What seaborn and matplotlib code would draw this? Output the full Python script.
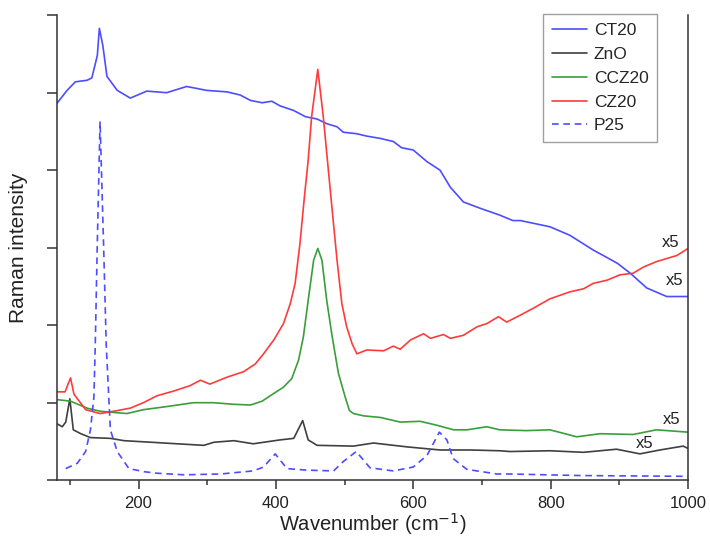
import matplotlib
matplotlib.use("Agg")
import matplotlib.pyplot as plt
import seaborn as sns
from matplotlib.ticker import MultipleLocator, NullFormatter

# values (wavenumber in cm-1, intensity in axis units 0..6)
ct20_x = [81, 96, 108, 125, 132, 140, 143, 148, 154, 169, 188, 212, 241, 270, 299, 329,
          348, 363, 380, 394, 406, 426, 443, 460, 474, 489, 498, 518, 532, 552, 571, 583,
          600, 620, 639, 654, 673, 697, 726, 745, 756, 799, 828, 862, 897, 916, 940, 969, 1000]
ct20_y = [4.86, 5.03, 5.14, 5.16, 5.19, 5.48, 5.83, 5.61, 5.21, 5.03, 4.93, 5.02, 5.00, 5.08, 5.03, 5.01,
          4.97, 4.90, 4.87, 4.89, 4.83, 4.77, 4.69, 4.66, 4.60, 4.56, 4.49, 4.47, 4.44, 4.41, 4.37, 4.29,
          4.26, 4.11, 4.00, 3.78, 3.59, 3.51, 3.42, 3.35, 3.35, 3.27, 3.16, 2.97, 2.80, 2.67, 2.48, 2.37, 2.37]

zno_x = [81, 89, 94, 100, 105, 116, 130, 159, 179, 218, 256, 295, 310, 339, 367, 406, 426,
         439, 447, 460, 513, 542, 591, 639, 668, 683, 726, 741, 799, 848, 896, 930, 959, 993, 1000]
zno_y = [0.73, 0.69, 0.75, 1.05, 0.65, 0.60, 0.55, 0.54, 0.51, 0.49, 0.47, 0.45, 0.49, 0.51, 0.47, 0.52, 0.54,
         0.77, 0.52, 0.45, 0.44, 0.48, 0.43, 0.39, 0.39, 0.39, 0.38, 0.37, 0.38, 0.36, 0.40, 0.34, 0.39, 0.44, 0.41]

ccz20_x = [81, 101, 125, 144, 183, 207, 241, 280, 309, 338, 363, 380, 397, 411, 423, 433, 440,
           447, 455, 461, 467, 474, 482, 491, 501, 507, 513, 528, 552, 581, 610, 634, 659, 678,
           707, 726, 765, 799, 838, 872, 920, 954, 1000]
ccz20_y = [1.04, 1.02, 0.93, 0.89, 0.86, 0.91, 0.95, 1.00, 1.00, 0.98, 0.97, 1.02, 1.12, 1.20, 1.31, 1.55, 1.85,
           2.32, 2.84, 2.99, 2.84, 2.32, 1.85, 1.38, 1.07, 0.90, 0.86, 0.83, 0.81, 0.75, 0.76, 0.71, 0.65, 0.65,
           0.69, 0.65, 0.64, 0.65, 0.56, 0.60, 0.59, 0.65, 0.62]

cz20_x = [81, 93, 101, 106, 123, 144, 164, 188, 207, 227, 251, 275, 290, 304, 329, 353, 370,
          382, 397, 411, 421, 428, 435, 441, 447, 452, 461, 469, 475, 482, 489, 496, 503, 511,
          518, 532, 557, 571, 581, 596, 615, 625, 644, 654, 673, 693, 707, 724, 736, 756, 775,
          799, 828, 848, 862, 882, 901, 920, 935, 954, 984, 1000]
cz20_y = [1.14, 1.14, 1.32, 1.11, 0.91, 0.86, 0.89, 0.93, 1.00, 1.09, 1.15, 1.22, 1.29, 1.24, 1.33, 1.40, 1.50,
          1.63, 1.81, 2.02, 2.28, 2.54, 3.05, 3.61, 4.13, 4.69, 5.30, 4.69, 4.13, 3.48, 2.84, 2.28, 1.98, 1.76,
          1.63, 1.68, 1.67, 1.73, 1.69, 1.81, 1.89, 1.83, 1.88, 1.83, 1.87, 1.98, 2.02, 2.11, 2.04, 2.13, 2.22,
          2.34, 2.43, 2.47, 2.54, 2.58, 2.65, 2.67, 2.75, 2.82, 2.90, 2.99]

p25_x = [94, 111, 123, 130, 135, 137, 140, 144, 149, 153, 159, 169, 186, 208, 227, 266, 319,
         367, 382, 399, 416, 445, 484, 498, 517, 537, 571, 600, 620, 638, 649, 658, 678, 722,
         742, 844, 1000]
p25_y = [0.15, 0.22, 0.37, 0.65, 1.07, 1.74, 3.07, 4.63, 3.07, 1.74, 0.65, 0.37, 0.15, 0.11, 0.09, 0.07, 0.08,
         0.12, 0.17, 0.34, 0.15, 0.13, 0.12, 0.24, 0.37, 0.16, 0.12, 0.17, 0.32, 0.62, 0.52, 0.28, 0.14, 0.08,
         0.08, 0.06, 0.05]

# "x5" scale notes: (x, y) near the right end of each curve
note_x = [974, 981, 976, 937]
note_y = [3.07, 2.58, 0.78, 0.47]

sns.set_style("ticks")
plt.rcParams['font.family'] = ['Liberation Sans', 'DejaVu Sans']

fig, ax = plt.subplots(figsize=(7.1, 5.42), dpi=100)
fig.subplots_adjust(left=0.080, right=0.969, bottom=0.114, top=0.972)

lw = 1.2
sns.lineplot(x=ct20_x, y=ct20_y, ax=ax, color='#4d4dff', lw=lw, label='CT20', sort=False)
sns.lineplot(x=zno_x, y=zno_y, ax=ax, color='#404040', lw=lw, label='ZnO', sort=False)
sns.lineplot(x=ccz20_x, y=ccz20_y, ax=ax, color='#3a9e3a', lw=lw, label='CCZ20', sort=False)
sns.lineplot(x=cz20_x, y=cz20_y, ax=ax, color='#ff3b3b', lw=lw, label='CZ20', sort=False)
sns.lineplot(x=p25_x, y=p25_y, ax=ax, color='#4d4dff', lw=lw, label='P25', sort=False,
             linestyle=(0, (4, 2.8)))

for tx, ty in zip(note_x, note_y):
    ax.text(tx, ty, 'x5', fontsize=12, ha='center', va='center', color='#222222')

ax.set_xlim(81, 1000)
ax.set_ylim(0, 6)
ax.xaxis.set_major_locator(MultipleLocator(200))
ax.xaxis.set_minor_locator(MultipleLocator(100))
ax.yaxis.set_major_locator(MultipleLocator(1))
ax.yaxis.set_major_formatter(NullFormatter())
ax.tick_params(axis='x', which='major', direction='out', length=6.5, width=1.1, labelsize=12,
               pad=5, color='#333333', labelcolor='#222222')
ax.tick_params(axis='x', which='minor', direction='out', length=3.6, width=1.1, color='#333333')
ax.tick_params(axis='y', which='major', direction='out', length=7, width=1.1, color='#333333')

for side in ['left', 'bottom', 'right']:
    ax.spines[side].set_linewidth(1.1)
    ax.spines[side].set_color('#333333')
ax.spines['top'].set_visible(False)

ax.set_xlabel('Wavenumber (cm$^{-1}$)', fontsize=14.5, labelpad=0, color='#222222')
ax.set_ylabel('Raman intensity', fontsize=15, labelpad=10, color='#222222')

leg = ax.legend(loc='upper right', bbox_to_anchor=(0.951, 1.002), borderaxespad=0, fontsize=12.5,
                frameon=True, fancybox=False, handlelength=2.0, labelspacing=0.5, borderpad=0.5,
                handletextpad=0.4)
leg.get_frame().set_edgecolor('#888888')
leg.get_frame().set_linewidth(1.0)

fig.savefig('out.png', dpi=100)
